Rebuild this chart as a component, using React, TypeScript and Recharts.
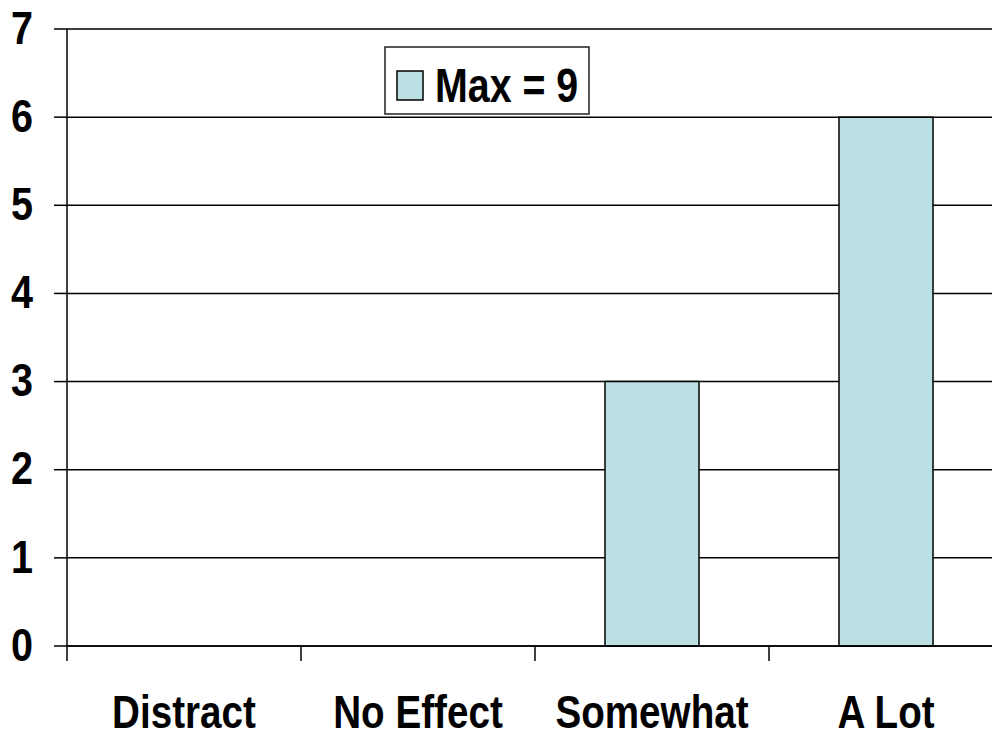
import { Bar, BarChart, CartesianGrid, Legend, XAxis, YAxis } from 'recharts'

const categories = ['Distract', 'No Effect', 'Somewhat', 'A Lot']
const maxValues = [0, 0, 3, 6]
const seriesName = 'Max = 9'
const yTicks = [0, 1, 2, 3, 4, 5, 6, 7]

const data = categories.map((name, i) => ({ name, max: maxValues[i] }))

const FONT = '"Liberation Sans", Arial, sans-serif'
const BAR_FILL = '#bbe0e3'

function YTick({ x, y, payload }: any) {
  return (
    <text
      transform={`translate(${x},${y}) scale(0.86,1)`}
      textAnchor="end"
      dy="0.32em"
      fontFamily={FONT}
      fontWeight="bold"
      fontSize={46}
      fill="#000"
    >
      {payload.value}
    </text>
  )
}

// category label plus the tick marks on the band edges
function XTick({ x, y, payload, index, visibleTicksCount }: any) {
  const half = payload.offset || 0
  const isLast = index === visibleTicksCount - 1
  return (
    <g>
      <line x1={x - half} x2={x - half} y1={y} y2={y + 15} stroke="#000" strokeWidth={1.5} />
      {isLast && <line x1={x + half} x2={x + half} y1={y} y2={y + 15} stroke="#000" strokeWidth={1.5} />}
      <text
        transform={`translate(${x},${y + 82}) scale(0.84,1)`}
        textAnchor="middle"
        fontFamily={FONT}
        fontWeight="bold"
        fontSize={46}
        fill="#000"
      >
        {payload.value}
      </text>
    </g>
  )
}

function LegendBox() {
  return (
    <svg width={206} height={69}>
      <rect x={1} y={1} width={204} height={67} fill="#fff" stroke="#222" strokeWidth={1.5} />
      <rect x={13} y={25} width={26} height={29} fill={BAR_FILL} stroke="#000" strokeWidth={1.5} />
      <text
        transform="translate(51,56) scale(0.82,1)"
        fontFamily={FONT}
        fontWeight="bold"
        fontSize={48}
        fill="#000"
      >
        {seriesName}
      </text>
    </svg>
  )
}

export default function App() {
  return (
    <div style={{ position: 'fixed', left: 0, top: 0, width: 992, height: 736, overflow: 'hidden', background: '#fff' }}>
      <BarChart width={1003} height={736} data={data} margin={{ top: 29, right: 0, bottom: 0, left: 0 }}>
        <CartesianGrid horizontal vertical={false} stroke="#000" strokeWidth={1.5} />
        <XAxis
          dataKey="name"
          height={90}
          tickSize={0}
          tickMargin={0}
          tickLine={false}
          axisLine={{ stroke: '#000', strokeWidth: 1.5 }}
          tick={<XTick />}
          interval={0}
        />
        <YAxis
          width={67}
          domain={[0, 7]}
          ticks={yTicks}
          tickSize={13}
          tickMargin={21}
          tickLine={{ stroke: '#000', strokeWidth: 1.5 }}
          axisLine={{ stroke: '#000', strokeWidth: 1.5 }}
          tick={<YTick />}
        />
        <Legend
          layout="vertical"
          align="center"
          verticalAlign="middle"
          content={() => <LegendBox />}
          wrapperStyle={{ left: 384, top: 46, width: 206, height: 69 }}
        />
        <Bar
          dataKey="max"
          name={seriesName}
          fill={BAR_FILL}
          stroke="#000"
          strokeWidth={1.5}
          barSize={94}
          isAnimationActive={false}
        />
      </BarChart>
    </div>
  )
}
